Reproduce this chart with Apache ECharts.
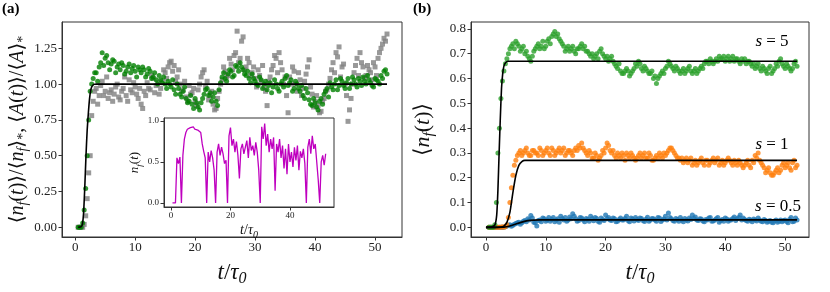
<!DOCTYPE html>
<html><head><meta charset="utf-8">
<script src="https://cdn.jsdelivr.net/npm/echarts@6/dist/echarts.min.js"></script>
<style>html,body{margin:0;padding:0;background:#fff}#c{width:830px;height:292px}</style>
</head><body><div id="c"></div>
<script>
// ---------------- data ----------------
// sampling times (two interleaved sets of samples)
const tGrid = [0.5,1,1.5,2,2.5,3,3.5,4,4.5,5,5.5,6,6.5,7,7.5,8,8.5,9,9.5,10,10.5,11,11.5,12,12.5,13,13.5,14,14.5,15,15.5,16,16.5,17,17.5,18,18.5,19,19.5,20,20.5,21,21.5,22,22.5,23,23.5,24,24.5,25,25.5,26,26.5,27,27.5,28,28.5,29,29.5,30,30.5,31,31.5,32,32.5,33,33.5,34,34.5,35,35.5,36,36.5,37,37.5,38,38.5,39,39.5,40,40.5,41,41.5,42,42.5,43,43.5,44,44.5,45,45.5,46,46.5,47,47.5,48,48.5,49,49.5,50,50.5,51,51.5,52];
const tGridB = [0.75,1.25,1.75,2.25,2.75,3.25,3.75,4.25,4.75,5.25,5.75,6.25,6.75,7.25,7.75,8.25,8.75,9.25,9.75,10.25,10.75,11.25,11.75,12.25,12.75,13.25,13.75,14.25,14.75,15.25,15.75,16.25,16.75,17.25,17.75,18.25,18.75,19.25,19.75,20.25,20.75,21.25,21.75,22.25,22.75,23.25,23.75,24.25,24.75,25.25,25.75,26.25,26.75,27.25,27.75,28.25,28.75,29.25,29.75,30.25,30.75,31.25,31.75,32.25,32.75,33.25,33.75,34.25,34.75,35.25,35.75,36.25,36.75,37.25,37.75,38.25,38.75,39.25,39.75,40.25,40.75,41.25,41.75,42.25,42.75,43.25,43.75,44.25,44.75,45.25,45.75,46.25,46.75,47.25,47.75,48.25,48.75,49.25,49.75,50.25,50.75,51.25,51.75];

// panel (a): <n_f(t)>/<n_f>* (green)
const nfNorm = [0.00,0.00,0.12,0.50,0.95,1.04,1.08,1.12,1.22,1.18,
 1.15,1.14,1.16,1.12,1.10,1.13,1.09,1.14,1.11,1.09,
 1.12,1.08,1.10,1.07,1.09,1.05,1.03,1.06,1.01,1.00,
 1.02,0.98,0.96,1.00,0.93,0.95,0.90,0.88,0.86,0.90,
 0.84,0.87,0.93,0.97,0.94,0.91,0.88,0.96,1.05,1.04,
 1.07,1.09,1.06,1.12,1.15,1.10,1.06,1.04,1.07,1.02,
 0.99,1.03,1.00,0.96,1.01,0.98,1.00,0.95,1.02,1.04,
 0.99,1.03,0.97,1.00,0.95,0.92,0.97,0.89,0.85,0.87,
 0.82,0.90,0.93,0.97,1.01,0.96,1.03,0.99,1.02,0.97,
 1.04,1.00,1.03,0.98,1.02,1.05,1.00,1.03,0.99,1.04,
 1.02,1.06,1.09,1.07];
const nfNormB = [0.00,0.03,0.27,0.75,1.00,1.08,1.02,1.15,1.13,1.20,
 1.10,1.17,1.08,1.14,1.15,1.07,1.12,1.08,1.13,1.05,
 1.10,1.12,1.05,1.11,1.04,1.08,1.00,1.03,1.05,0.97,
 1.00,1.03,0.93,0.97,0.91,0.98,0.87,0.92,0.83,0.87,
 0.82,0.90,0.96,0.92,0.88,0.94,0.85,1.01,1.08,1.02,
 1.10,1.05,1.13,1.09,1.12,1.07,1.09,1.01,1.04,1.00,
 1.05,0.97,1.02,0.99,0.94,1.03,0.97,1.00,0.98,1.06,
 1.01,0.95,1.02,0.97,0.99,0.90,0.94,0.86,0.90,0.84,
 0.88,0.86,0.95,0.91,0.98,1.00,0.96,1.04,0.99,1.01,
 0.97,1.05,1.00,1.04,0.99,1.02,1.06,1.01,0.98,1.03,
 1.00,1.04,1.10];
// panel (a): <A(t)>/<A>* (gray)
const aNorm = [0.00,0.00,0.02,0.20,0.50,0.88,0.97,0.92,1.02,0.95,
 0.90,0.96,0.93,1.00,0.89,0.97,0.92,1.03,0.94,0.98,
 0.90,0.86,0.95,1.01,0.96,1.04,0.99,0.93,1.02,1.08,
 1.12,1.16,1.13,1.05,1.00,0.96,0.91,0.99,0.94,0.88,
 0.96,1.05,1.10,1.02,0.92,0.86,0.83,0.95,1.03,1.09,
 1.06,1.14,1.20,1.37,1.18,1.33,1.12,1.15,1.08,1.04,
 1.10,1.02,0.98,0.85,1.05,1.13,1.18,1.22,1.10,1.05,
 0.80,1.00,1.09,0.95,1.03,0.97,1.07,1.17,0.93,0.88,
 0.85,0.81,0.90,0.96,1.04,1.15,1.22,1.26,1.12,1.00,
 0.74,0.90,1.08,1.18,1.22,1.12,1.06,1.10,1.03,1.12,
 1.18,1.25,1.32,1.35];
const aNormB = [0.00,0.00,0.08,0.38,0.78,0.95,0.86,0.99,0.92,1.05,
 0.94,0.88,0.98,0.91,0.95,1.05,0.88,0.96,1.01,0.93,
 0.97,0.83,0.92,0.97,1.06,0.94,1.01,0.97,1.10,1.04,
 1.15,1.09,1.02,1.10,0.95,1.02,0.88,0.93,0.97,0.85,
 1.00,1.08,0.98,0.89,0.95,0.82,0.90,1.00,1.12,1.05,
 1.18,1.10,1.22,1.15,1.30,1.10,1.18,1.06,1.12,0.98,
 1.06,1.13,0.95,1.02,1.10,1.20,1.08,1.15,1.00,0.92,
 1.05,1.12,1.00,1.08,0.92,1.02,1.12,0.98,0.84,0.92,
 0.80,0.88,0.95,1.00,1.10,1.08,1.19,1.05,1.14,0.92,
 0.82,1.00,1.13,1.06,1.15,1.04,1.13,1.08,1.15,1.06,
 1.22,1.28,1.30];
const fitA = [[0.5,0],[1.0,0.005],[1.2,0.02],[1.4,0.1],[1.6,0.28],[1.8,0.5],[2.0,0.68],[2.2,0.8],[2.4,0.9],[2.6,0.96],[2.8,0.985],[3.1,0.998],[3.5,1.0],[52,1.0]];
// inset: single run n_f(t)
const nfSingle = [0,0,0,0.55,0.48,0.56,0,0.58,0.78,0.86,
 0.90,0.89,0.92,0.91,0.93,0.90,0.92,0.89,0.91,0.86,
 0.72,0.63,0.55,0,0.62,0.50,0.64,0.55,0.40,0,
 0.62,0.72,0.58,0.68,0.60,0.48,0.52,0,0.82,0.92,
 0.70,0.78,0.62,0.75,0.58,0.30,0.66,0.72,0.60,0.68,
 0.76,0.55,0.80,0.64,0.70,0.58,0.74,0.62,0.40,0,
 0.93,0.78,0.97,0.70,0.84,0.62,0.78,0.66,0.80,0.15,
 0.72,0.62,0.78,0.55,0.70,0.42,0.66,0.35,0.72,0.50,
 0.62,0.44,0.68,0.52,0.70,0.40,0.63,0.55,0.66,0.48,
 0,0.68,0.78,0.60,0.82,0.66,0.72,0.50,0.28,0,
 0.50,0.58,0.46,0.60];

// panel (b): <n_f(t)> for s = 5, 1, 0.5
const nfS5 = [0.00,0.00,0.01,0.30,0.52,0.63,0.68,0.72,0.74,0.75,
 0.73,0.72,0.70,0.69,0.67,0.71,0.73,0.72,0.75,0.73,
 0.76,0.77,0.79,0.78,0.75,0.73,0.72,0.71,0.73,0.70,
 0.72,0.74,0.73,0.71,0.69,0.68,0.70,0.71,0.70,0.68,
 0.67,0.69,0.66,0.64,0.63,0.62,0.64,0.61,0.63,0.66,
 0.67,0.64,0.65,0.63,0.62,0.60,0.58,0.61,0.63,0.64,
 0.67,0.65,0.63,0.64,0.62,0.64,0.63,0.65,0.62,0.64,
 0.63,0.65,0.66,0.67,0.68,0.66,0.68,0.69,0.68,0.67,
 0.69,0.68,0.67,0.68,0.66,0.67,0.66,0.67,0.65,0.64,
 0.66,0.63,0.64,0.62,0.65,0.63,0.66,0.67,0.66,0.64,
 0.65,0.63,0.66,0.65];
const nfS5B = [0.00,0.00,0.10,0.40,0.59,0.66,0.70,0.73,0.72,0.74,
 0.71,0.73,0.71,0.68,0.69,0.72,0.74,0.73,0.72,0.75,
 0.74,0.78,0.77,0.76,0.74,0.71,0.73,0.72,0.71,0.72,
 0.73,0.72,0.71,0.70,0.70,0.69,0.68,0.72,0.69,0.69,
 0.68,0.67,0.65,0.66,0.62,0.63,0.63,0.62,0.64,0.65,
 0.66,0.63,0.64,0.62,0.63,0.61,0.60,0.62,0.62,0.65,
 0.66,0.64,0.65,0.63,0.63,0.62,0.64,0.63,0.63,0.62,
 0.64,0.64,0.67,0.66,0.67,0.67,0.67,0.68,0.69,0.68,
 0.67,0.69,0.68,0.67,0.68,0.68,0.67,0.66,0.66,0.65,
 0.64,0.65,0.63,0.64,0.62,0.64,0.65,0.68,0.65,0.66,
 0.64,0.64,0.67];
const nfS1 = [0,0,0,0,0,0,0.01,0.10,0.21,0.27,
 0.30,0.29,0.31,0.30,0.29,0.31,0.30,0.32,0.29,0.31,
 0.30,0.32,0.29,0.31,0.30,0.32,0.30,0.31,0.29,0.32,
 0.33,0.34,0.31,0.29,0.30,0.28,0.29,0.28,0.31,0.32,
 0.33,0.30,0.29,0.30,0.28,0.29,0.30,0.28,0.29,0.27,
 0.29,0.28,0.30,0.28,0.29,0.27,0.29,0.30,0.28,0.29,
 0.31,0.32,0.30,0.28,0.27,0.26,0.28,0.27,0.25,0.27,
 0.26,0.28,0.25,0.27,0.26,0.28,0.27,0.25,0.27,0.26,
 0.28,0.26,0.27,0.25,0.26,0.24,0.26,0.25,0.27,0.29,
 0.30,0.26,0.24,0.23,0.22,0.21,0.23,0.22,0.25,0.24,
 0.26,0.23,0.27,0.25];
const nfS1B = [0,0,0,0,0.002,0.003,0.04,0.16,0.25,0.29,
 0.31,0.30,0.32,0.29,0.31,0.30,0.29,0.31,0.30,0.32,
 0.29,0.31,0.30,0.32,0.31,0.29,0.31,0.30,0.31,0.31,
 0.32,0.32,0.30,0.31,0.28,0.30,0.27,0.29,0.30,0.34,
 0.31,0.31,0.28,0.29,0.30,0.27,0.29,0.30,0.28,0.28,
 0.30,0.29,0.28,0.30,0.27,0.28,0.28,0.29,0.30,0.30,
 0.32,0.31,0.29,0.28,0.28,0.27,0.26,0.28,0.26,0.25,
 0.27,0.26,0.27,0.25,0.27,0.26,0.28,0.26,0.25,0.27,
 0.27,0.25,0.26,0.27,0.25,0.25,0.27,0.24,0.26,0.28,
 0.27,0.25,0.22,0.24,0.21,0.22,0.24,0.23,0.26,0.25,
 0.24,0.26,0.24];
const nfS05 = [0,0,0,0,0,0,0.005,0.01,0.008,0.015,
 0.02,0.018,0.028,0.035,0.048,0.02,0.005,0.03,0.038,0.025,
 0.04,0.032,0.022,0.035,0.045,0.03,0.025,0.042,0.055,0.035,
 0.028,0.038,0.022,0.033,0.045,0.027,0.036,0.02,0.032,0.05,
 0.04,0.028,0.035,0.025,0.038,0.03,0.045,0.022,0.034,0.04,
 0.028,0.036,0.024,0.041,0.03,0.035,0.025,0.038,0.03,0.045,
 0.058,0.035,0.025,0.032,0.04,0.022,0.03,0.038,0.05,0.042,
 0.028,0.034,0.022,0.03,0.04,0.026,0.035,0.02,0.032,0.038,
 0.025,0.03,0.042,0.035,0.05,0.038,0.028,0.033,0.022,0.03,
 0.038,0.025,0.032,0.02,0.028,0.018,0.03,0.025,0.022,0.03,
 0.018,0.04,0.025,0.03];
const nfS05B = [0,0,0,0,0,0.002,0.008,0.004,0.012,0.018,
 0.012,0.025,0.022,0.03,0.038,0.018,0.028,0.022,0.035,0.03,
 0.025,0.04,0.03,0.02,0.035,0.04,0.03,0.035,0.045,0.025,
 0.04,0.03,0.036,0.025,0.035,0.04,0.025,0.038,0.028,0.035,
 0.03,0.038,0.022,0.032,0.03,0.036,0.028,0.038,0.026,0.032,
 0.038,0.028,0.033,0.025,0.036,0.03,0.04,0.024,0.034,0.03,
 0.04,0.028,0.036,0.025,0.03,0.036,0.026,0.032,0.036,0.03,
 0.035,0.026,0.032,0.038,0.025,0.03,0.04,0.028,0.025,0.034,
 0.03,0.036,0.028,0.04,0.03,0.032,0.025,0.03,0.034,0.026,
 0.03,0.022,0.028,0.025,0.02,0.026,0.02,0.03,0.028,0.024,
 0.032,0.022,0.038];
const fitS5 = [[0,0],[1.0,0.002],[1.5,0.01],[1.8,0.05],[2.0,0.15],[2.2,0.3],[2.4,0.44],[2.6,0.56],[2.8,0.62],[3.0,0.65],[3.3,0.665],[3.7,0.67],[52,0.67]];
const fitS1 = [[0,0],[2.5,0.001],[3.0,0.005],[3.5,0.02],[4.0,0.06],[4.5,0.14],[5.0,0.21],[5.5,0.25],[6.0,0.265],[6.5,0.27],[52,0.27]];
const fitS05 = [[0,0],[3.0,0.001],[4.0,0.005],[5.0,0.013],[6.0,0.021],[7.0,0.027],[8.0,0.029],[9.0,0.03],[52,0.03]];

// tick labels
const xTicks = [0,10,20,30,40,50];
const yTicksA = [0,0.25,0.5,0.75,1.0,1.25];
const yTicksB = [0,0.1,0.2,0.3,0.4,0.5,0.6,0.7,0.8];
const xTicksInset = [0,20,40];
const yTicksInset = [0,0.5,1.0];
const sValues = ['5','1','0.5'];

// ---------------- chart ----------------
const SERIF = '"Liberation Serif","DejaVu Serif",serif';
const AX = '#333';
const pairs = (ts, ys) => ts.map((t,i)=>[t, ys[i]]);

function rich(sz){
  const sub = Math.round(sz*0.7);
  return {
    r:{fontFamily:SERIF,fontSize:sz,color:'#111',lineHeight:sz+6},
    i:{fontFamily:SERIF,fontStyle:'italic',fontSize:sz,color:'#111',lineHeight:sz+6},
    s:{fontFamily:SERIF,fontStyle:'italic',fontSize:sub,color:'#111',lineHeight:sub,verticalAlign:'bottom'},
    p:{fontFamily:SERIF,fontSize:sub,color:'#111',lineHeight:sub,verticalAlign:'bottom'}
  };
}
function xAx(grid,min,max,ticks,fs,nameSz,gap){
  return {gridIndex:grid,type:'value',min:min,max:max,
    splitLine:{show:false},
    axisLine:{show:true,onZero:false,lineStyle:{color:AX,width:1}},
    axisTick:{show:true,length:3.5,customValues:ticks,lineStyle:{color:AX}},
    axisLabel:{customValues:ticks,fontFamily:SERIF,fontSize:fs,color:'#222',margin:4},
    name:'{i|t}{r|/}{i|τ}{s|0}',nameLocation:'middle',nameGap:gap,
    nameTextStyle:{rich:rich(nameSz)}};
}
function yAx(grid,min,max,ticks,fs,dec,name,nameSz,gap){
  return {gridIndex:grid,type:'value',min:min,max:max,
    splitLine:{show:false},
    axisLine:{show:true,onZero:false,lineStyle:{color:AX,width:1}},
    axisTick:{show:true,length:3.5,customValues:ticks,lineStyle:{color:AX}},
    axisLabel:{customValues:ticks,fontFamily:SERIF,fontSize:fs,color:'#222',margin:5,
      formatter:(v)=>v.toFixed(dec)},
    name:name,nameLocation:'middle',nameGap:gap,nameRotate:90,
    nameTextStyle:{rich:rich(nameSz)}};
}
function dots(xi, ts, ys, color, sym, size, z){
  return {type:'scatter',xAxisIndex:xi,yAxisIndex:xi,data:pairs(ts,ys),symbol:sym,symbolSize:size,
    itemStyle:{color:color},z:z};
}
function fit(xi, data){
  return {type:'line',xAxisIndex:xi,yAxisIndex:xi,data:data,showSymbol:false,smooth:0.2,
    lineStyle:{color:'#000',width:1.6},z:4};
}

const option = {
  animation:false,
  backgroundColor:'#fff',
  grid:[
    {left:62,top:22,width:340,height:220,show:true,borderColor:AX,borderWidth:1,backgroundColor:'transparent'},
    {left:471,top:22,width:338,height:220,show:true,borderColor:AX,borderWidth:1,backgroundColor:'transparent'},
    {left:164,top:118,width:170,height:89,show:true,borderColor:AX,borderWidth:1,backgroundColor:'#fff',z:5}
  ],
  xAxis:[
    xAx(0,-2.2,54.5,xTicks,13,23,21),
    xAx(1,-2.5,54,xTicks,13,23,21),
    Object.assign(xAx(2,-2.35,54.8,xTicksInset,9,14,13),{z:6})
  ],
  yAxis:[
    yAx(0,-0.068,1.434,yTicksA,13,2,
      '{r|⟨}{i|n}{s|f}{r|(}{i|t}{r|)⟩/⟨}{i|n}{s|f}{r|⟩}{p|*}{r|, ⟨}{i|A}{r|(}{i|t}{r|)⟩/⟨}{i|A}{r|⟩}{p|*}',20,31),
    yAx(1,-0.039,0.828,yTicksB,13,1,'{r|⟨}{i|n}{s|f}{r|(}{i|t}{r|)⟩}',22,34),
    Object.assign(yAx(2,-0.05,1.037,yTicksInset,9,1,'{i|n}{s|f}{r|(}{i|t}{r|)}',13,17),{z:6})
  ],
  series:[
    dots(0, tGrid, aNorm, '#808080', 'rect', 5, 2),
    dots(0, tGridB, aNormB, '#808080', 'rect', 5, 2),
    dots(0, tGrid, nfNorm, '#008000', 'circle', 5, 3),
    dots(0, tGridB, nfNormB, '#008000', 'circle', 5, 3),
    fit(0, fitA),
    {type:'line',xAxisIndex:2,yAxisIndex:2,data:pairs(tGrid,nfSingle),showSymbol:false,
      lineStyle:{color:'#bf00bf',width:1.3},z:7},
    dots(1, tGrid, nfS05, '#1f77b4', 'circle', 5, 2),
    dots(1, tGridB, nfS05B, '#1f77b4', 'circle', 5, 2),
    dots(1, tGrid, nfS1, '#ff7f0e', 'circle', 5, 2),
    dots(1, tGridB, nfS1B, '#ff7f0e', 'circle', 5, 2),
    dots(1, tGrid, nfS5, '#2ca02c', 'circle', 5, 2),
    dots(1, tGridB, nfS5B, '#2ca02c', 'circle', 5, 2),
    fit(1, fitS5), fit(1, fitS1), fit(1, fitS05)
  ],
  graphic:[
    {type:'text',left:2,top:2,style:{text:'(a)',font:'bold 15px '+SERIF,fill:'#000'}},
    {type:'text',left:413,top:2,style:{text:'(b)',font:'bold 15px '+SERIF,fill:'#000'}},
    {type:'text',x:772,y:42,style:{text:'{i|s}{r| = '+sValues[0]+'}',rich:rich(17),align:'center',verticalAlign:'middle'}},
    {type:'text',x:772,y:145,style:{text:'{i|s}{r| = '+sValues[1]+'}',rich:rich(17),align:'center',verticalAlign:'middle'}},
    {type:'text',x:778,y:207,style:{text:'{i|s}{r| = '+sValues[2]+'}',rich:rich(17),align:'center',verticalAlign:'middle'}}
  ]
};
const chart = echarts.init(document.getElementById('c'));
chart.setOption(option);
</script>
</body></html>
